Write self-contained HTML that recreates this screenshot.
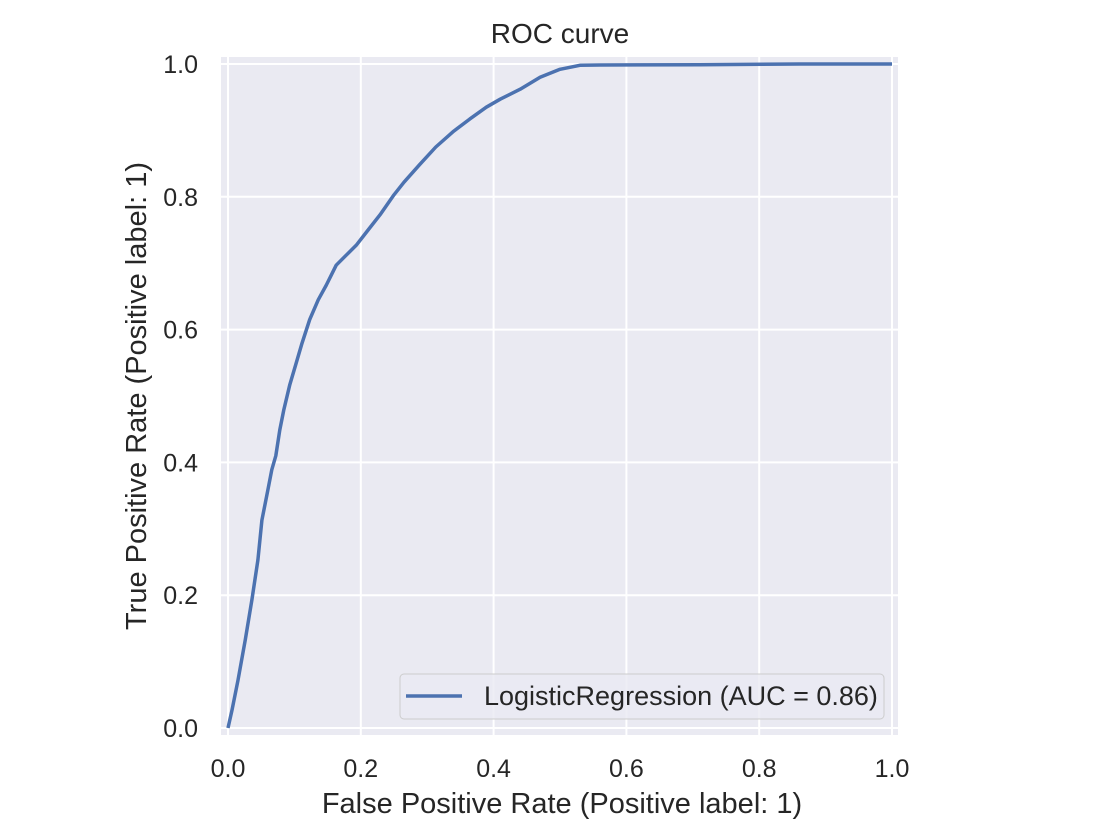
<!DOCTYPE html>
<html><head><meta charset="utf-8"><style>
body{margin:0;background:#fff}
svg{display:block;font-family:"Liberation Sans","DejaVu Sans",sans-serif}
</style></head><body>
<svg id="chart" width="1120" height="840">
<rect x="221" y="57" width="677" height="678" fill="#EAEAF2"/>
<g id="grid"></g><g id="ticks"></g>
<path id="curve" fill="none" stroke="#4C72B0" stroke-width="3.5" stroke-linejoin="round"/>
<text x="560" y="43" text-anchor="middle" font-size="28" fill="#262626">ROC curve</text>
<text x="562" y="813" text-anchor="middle" font-size="29" fill="#262626">False Positive Rate (Positive label: 1)</text>
<text transform="translate(146,396) rotate(-90)" text-anchor="middle" font-size="29" fill="#262626">True Positive Rate (Positive label: 1)</text>
<g>
<rect x="400" y="674" width="484" height="45" rx="4" fill="#EAEAF2" fill-opacity="0.8" stroke="#cccccc"/>
<line x1="406" y1="696" x2="462" y2="696" stroke="#4C72B0" stroke-width="3.5"/>
<text x="484" y="705" font-size="27" fill="#262626">LogisticRegression (AUC = 0.86)</text>
</g>
</svg>
<script>
const fpr=[0,0.006,0.015,0.026,0.036,0.045,0.051,0.060,0.066,0.072,0.078,0.084,0.093,0.102,0.111,0.123,0.136,0.148,0.163,0.178,0.193,0.211,0.229,0.250,0.265,0.289,0.313,0.340,0.364,0.389,0.410,0.440,0.470,0.500,0.530,0.560,0.711,0.861,1];
const tpr=[0,0.027,0.072,0.133,0.193,0.253,0.313,0.358,0.389,0.410,0.449,0.479,0.517,0.547,0.578,0.615,0.645,0.667,0.697,0.712,0.727,0.750,0.773,0.803,0.822,0.849,0.875,0.899,0.917,0.935,0.947,0.962,0.980,0.992,0.998,0.9985,0.999,1.0,1.0];
const ticks=[0,0.2,0.4,0.6,0.8,1.0];
const tickLabels=["0.0","0.2","0.4","0.6","0.8","1.0"];
const X=v=>228+v*664, Y=v=>728-v*664;
const NS="http://www.w3.org/2000/svg";
const grid=document.getElementById('grid'), tk=document.getElementById('ticks');
ticks.forEach((t,i)=>{
 const gx=document.createElementNS(NS,'line');
 
 
 gx.setAttribute('x1',X(t));gx.setAttribute('x2',X(t));gx.setAttribute('y1',57);gx.setAttribute('y2',735);
 gx.setAttribute('stroke','#fff');gx.setAttribute('stroke-width','2');grid.appendChild(gx);
 const gy=document.createElementNS(NS,'line');
 
 
 gy.setAttribute('y1',Y(t));gy.setAttribute('y2',Y(t));gy.setAttribute('x1',221);gy.setAttribute('x2',898);
 gy.setAttribute('stroke','#fff');gy.setAttribute('stroke-width','2');grid.appendChild(gy);
 const tx=document.createElementNS(NS,'text');
 
 
 tx.setAttribute('x',X(t));tx.setAttribute('y',777);tx.setAttribute('text-anchor','middle');
 tx.setAttribute('font-size','25');tx.setAttribute('fill','#262626');tx.textContent=tickLabels[i];tk.appendChild(tx);
 const ty=document.createElementNS(NS,'text');
 
 
 ty.setAttribute('x',198);ty.setAttribute('y',Y(t)+9);ty.setAttribute('text-anchor','end');
 ty.setAttribute('font-size','25');ty.setAttribute('fill','#262626');ty.textContent=tickLabels[i];tk.appendChild(ty);
});
document.getElementById('curve').setAttribute('d',fpr.map((f,i)=>(i?'L':'M')+X(f).toFixed(1)+','+Y(tpr[i]).toFixed(1)).join(''));
</script>
</body></html>
